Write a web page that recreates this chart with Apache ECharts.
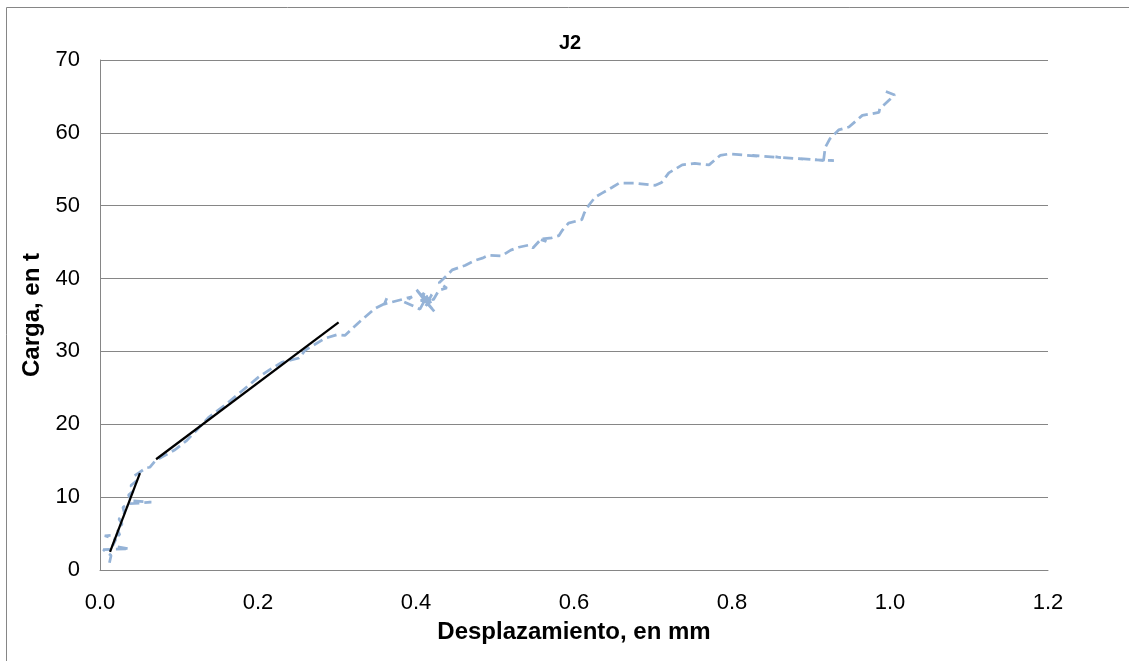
<!DOCTYPE html>
<html>
<head>
<meta charset="utf-8">
<script src="https://cdn.jsdelivr.net/npm/echarts@6/dist/echarts.min.js"></script>
<style>
html,body{margin:0;padding:0;background:#fff;}
#chart{width:1129px;height:661px;}
</style>
</head>
<body>
<div id="chart"></div>
<script>
// Measured series (displacement mm, load t)
const dispX = [0.012,0.014,0.004,0.037,0.016,0.02,0.006,0.025,0.022,0.028,0.024,0.031,0.029,0.036,0.065,0.04,0.036,0.043,0.039,0.046,0.043,0.05,0.058,0.063,0.07,0.08,0.095,0.11,0.125,0.138,0.158,0.18,0.201,0.215,0.23,0.252,0.26,0.285,0.3,0.31,0.318,0.328,0.348,0.361,0.363,0.36,0.395,0.385,0.405,0.411,0.399,0.424,0.415,0.408,0.418,0.412,0.42,0.41,0.416,0.406,0.419,0.413,0.422,0.429,0.439,0.429,0.435,0.446,0.462,0.475,0.484,0.492,0.508,0.52,0.53,0.543,0.548,0.559,0.565,0.556,0.572,0.581,0.585,0.593,0.61,0.613,0.619,0.627,0.635,0.648,0.657,0.677,0.703,0.711,0.72,0.737,0.753,0.771,0.785,0.796,0.834,0.826,0.862,0.855,0.89,0.882,0.916,0.905,0.929,0.916,0.918,0.924,0.935,0.948,0.965,0.986,0.987,0.999,1.006,0.992];
const loadY = [1.0,2.0,2.8,2.9,3.3,4.2,4.7,4.8,5.6,6.3,7.0,7.8,8.6,9.1,9.3,9.5,10.3,10.9,11.6,12.2,12.9,13.4,14.0,14.1,15.0,15.6,16.5,17.8,19.5,21.0,22.6,24.6,26.5,27.5,28.5,29.1,30.2,31.8,32.3,32.2,33.0,34.0,35.9,36.6,37.3,36.5,37.5,36.8,35.8,37.0,38.7,35.4,36.5,38.0,37.2,36.2,37.8,36.8,37.4,37.0,36.6,37.6,37.1,38.4,38.7,39.4,40.0,41.2,41.8,42.5,42.8,43.2,43.1,43.9,44.3,44.6,44.2,45.5,45.1,45.4,45.6,45.9,46.6,47.6,48.1,49.0,50.1,51.2,51.7,52.5,53.1,53.1,52.8,53.2,54.5,55.6,55.8,55.6,56.9,57.1,56.8,56.9,56.6,56.7,56.4,56.5,56.2,56.3,56.2,56.3,58.0,59.2,60.4,60.8,62.4,62.8,63.3,64.5,65.2,65.8];
// Fitted straight segments (black)
const fit1X = [0.0127, 0.0506];
const fit1Y = [2.5, 13.3];
const fit2X = [0.071, 0.302];
const fit2Y = [15.2, 34.0];
// Axes
const xTicks = ['0.0','0.2','0.4','0.6','0.8','1.0','1.2'];
const yTicks = [0,10,20,30,40,50,60,70];

const zip = (a,b) => a.map((v,i)=>[v,b[i]]);
const FONT = '"Liberation Sans", Arial, sans-serif';

const chart = echarts.init(document.getElementById('chart'), null, {renderer:'canvas'});
chart.setOption({
  animation:false,
  backgroundColor:'#fff',
  graphic:[{
    type:'rect', shape:{x:6.5,y:7.5,width:1140,height:700},
    style:{fill:'none', stroke:'#868686', lineWidth:1}, silent:true
  }],
  title:{
    text:'J2', left:565, top:28, textAlign:'center',
    textStyle:{fontFamily:FONT, fontSize:20, fontWeight:'bold', color:'#000'}
  },
  grid:{left:100, right:81, top:60, bottom:91, containLabel:false},
  xAxis:{
    type:'value', min:0, max:1.2, interval:0.2,
    name:'Desplazamiento, en mm', nameLocation:'middle', nameGap:50,
    nameTextStyle:{fontFamily:FONT, fontSize:24, fontWeight:'bold', color:'#000'},
    axisLine:{show:true, lineStyle:{color:'#868686', width:1}},
    axisTick:{show:false},
    splitLine:{show:false},
    axisLabel:{fontFamily:FONT, fontSize:22, color:'#000', margin:22,
      formatter:(v)=>{const s=v.toFixed(1); return xTicks.includes(s)?s:'';}}
  },
  yAxis:{
    type:'value', min:yTicks[0], max:yTicks[yTicks.length-1], interval:10,
    name:'Carga, en t', nameLocation:'middle', nameGap:53, nameRotate:90,
    nameTextStyle:{fontFamily:FONT, fontSize:24, fontWeight:'bold', color:'#000'},
    axisLine:{show:true, lineStyle:{color:'#868686', width:1}},
    axisTick:{show:false},
    splitLine:{show:true, lineStyle:{color:'#868686', width:1}},
    axisLabel:{fontFamily:FONT, fontSize:22, color:'#000', margin:20}
  },
  series:[
    {
      type:'line', data:zip(dispX, loadY), showSymbol:false, symbol:'none',
      lineStyle:{color:'#95B3D7', width:2.75, type:[10,5]}, z:2
    },
    {
      type:'line', data:zip(fit1X, fit1Y), showSymbol:false, symbol:'none',
      lineStyle:{color:'#000', width:2.25}, z:3
    },
    {
      type:'line', data:zip(fit2X, fit2Y), showSymbol:false, symbol:'none',
      lineStyle:{color:'#000', width:2.25}, z:3
    }
  ]
});
</script>
</body>
</html>
